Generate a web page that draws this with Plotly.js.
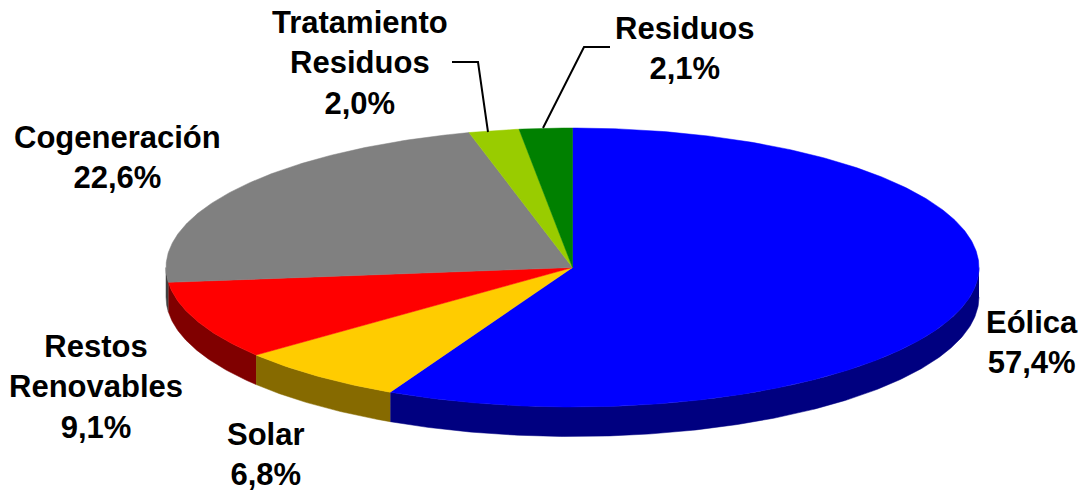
<!DOCTYPE html>
<html>
<head>
<meta charset="utf-8">
<script src="https://cdn.plot.ly/plotly-3.0.1.min.js"></script>
<style>html,body{margin:0;padding:0;background:#fff;overflow:hidden}#chart{width:1081px;height:493px}</style>
</head>
<body>
<div id="chart"></div>
<script>
// Data, clockwise from the top of the pie
const categories = ["Eólica", "Solar", "Restos<br>Renovables", "Cogeneración", "Tratamiento<br>Residuos", "Residuos"];
const values = [57.4, 6.8, 9.1, 22.6, 2.0, 2.1];
const valueLabels = ["57,4%", "6,8%", "9,1%", "22,6%", "2,0%", "2,1%"];
const topColors = ["#0000ff", "#ffcc00", "#ff0000", "#808080", "#99cc00", "#008000"];
const sideColors = ["#000080", "#866a00", "#800000", "#404040", "#4d6600", "#004000"];
const labelX = [1032, 266, 96, 117, 360, 685];
const labelY = [342, 454, 387, 157, 63, 48];
const leaderResiduosX = [610, 584, 543];
const leaderResiduosY = [47, 47, 128];
const leaderTratamientoX = [452, 478, 488];
const leaderTratamientoY = [62, 62, 132];

// Pie geometry in axis units (axes span the page in pixels)
const cx = 572.5, cy = 267.5, rx = 406.5, ry = 139.5, depth = 29.5;
const total = values.reduce((a, b) => a + b, 0);
const rad = d => d * Math.PI / 180;
const px = t => cx + rx * Math.sin(rad(t));
const py = t => cy - ry * Math.cos(rad(t));
function arc(a, b) {
  const n = Math.max(2, Math.ceil((b - a) / 0.5));
  const out = [];
  for (let i = 0; i <= n; i++) out.push(a + (b - a) * i / n);
  return out;
}

const sideTraces = [], topTraces = [];
let start = 0;
values.forEach((v, i) => {
  const end = start + v / total * 360;
  const a = Math.max(start, 90), b = Math.min(end, 270);
  if (b > a) {
    const ts = arc(a, b), rev = ts.slice().reverse();
    sideTraces.push({
      type: "scatter", mode: "lines", fill: "toself", fillcolor: sideColors[i],
      line: {color: sideColors[i], width: 0.5}, hoverinfo: "skip", showlegend: false,
      x: ts.map(px).concat(rev.map(px)),
      y: ts.map(py).concat(rev.map(t => py(t) + depth))
    });
  }
  const ts = arc(start, end);
  topTraces.push({
    type: "scatter", mode: "lines", fill: "toself", fillcolor: topColors[i],
    line: {color: topColors[i], width: 0.5}, name: categories[i].replace("<br>", " "),
    hoverinfo: "name", showlegend: false,
    x: [cx].concat(ts.map(px), [cx]),
    y: [cy].concat(ts.map(py), [cy])
  });
  start = end;
});

const leader = (x, y) => ({
  type: "scatter", mode: "lines", x, y,
  line: {color: "#000000", width: 2}, hoverinfo: "skip", showlegend: false
});

const annotations = categories.map((c, i) => ({
  xref: "x", yref: "y", x: labelX[i], y: labelY[i],
  text: c + "<br>" + valueLabels[i], showarrow: false,
  xanchor: "center", yanchor: "middle", align: "center", borderpad: 0,
  font: {family: "Liberation Sans, Arial, sans-serif", size: 31, color: "#000000", weight: 700}
}));

const hidden = {visible: false, fixedrange: true};
Plotly.newPlot("chart",
  sideTraces.concat(topTraces, [leader(leaderResiduosX, leaderResiduosY), leader(leaderTratamientoX, leaderTratamientoY)]),
  {
    width: 1081, height: 493,
    margin: {l: 0, r: 0, t: 0, b: 0},
    paper_bgcolor: "#ffffff", plot_bgcolor: "#ffffff",
    xaxis: Object.assign({range: [0, 1081]}, hidden),
    yaxis: Object.assign({range: [493, 0]}, hidden),
    annotations, showlegend: false
  },
  {displayModeBar: false, staticPlot: true});
</script>
</body>
</html>
